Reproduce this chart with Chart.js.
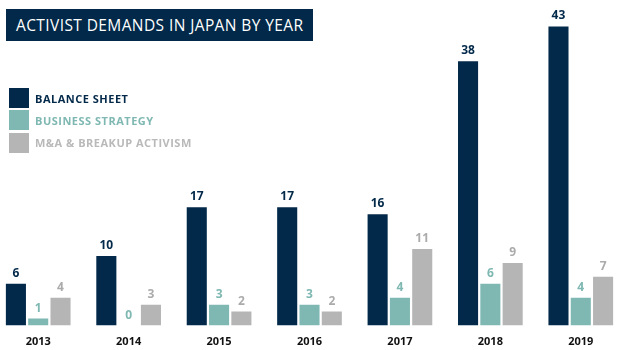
<!DOCTYPE html>
<html>
<head>
<meta charset="utf-8">
<script src="https://cdn.jsdelivr.net/npm/chart.js@4/dist/chart.umd.min.js"></script>
<style>
  html, body { margin: 0; padding: 0; width: 618px; height: 350px; overflow: hidden; background: #ffffff; }
  #wrap { position: absolute; left: -7px; top: 0; width: 633px; height: 350px; }
  #title { position: absolute; left: 6px; top: 9px; width: 307px; height: 32px; background: #022949; color: #ffffff;
           font-family: "Open Sans", sans-serif; font-size: 15.5px; letter-spacing: 0.4px; line-height: 32px; box-sizing: border-box; padding-left: 10px; white-space: nowrap; }
  #legend { position: absolute; left: 9px; top: 88px; font-family: "Open Sans", sans-serif; font-weight: bold; font-size: 11px; letter-spacing: 0.5px; }
  .row { height: 20px; margin-bottom: 2.3px; display: flex; align-items: center; }
  .sw { width: 20px; height: 20px; margin-right: 6px; }
</style>
</head>
<body>
<div id="wrap"><canvas id="c" width="633" height="350"></canvas></div>
<div id="title">ACTIVIST DEMANDS IN JAPAN BY YEAR</div>
<div id="legend"></div>
<script>
const years = ["2013", "2014", "2015", "2016", "2017", "2018", "2019"];
const balanceSheet = [6, 10, 17, 17, 16, 38, 43];
const businessStrategy = [1, 0, 3, 3, 4, 6, 4];
const mnaBreakup = [4, 3, 2, 2, 11, 9, 7];
const seriesNames = ["BALANCE SHEET", "BUSINESS STRATEGY", "M&A & BREAKUP ACTIVISM"];
const seriesColors = ["#022949", "#7fb8b2", "#b5b5b5"];
const labelColors = ["#022949", "#7fb8b2", "#ababab"];
const legendTextColors = ["#022949", "#7fb8b2", "#b9b9b9"];

// HTML legend
const lg = document.getElementById('legend');
seriesNames.forEach((n, i) => {
  const r = document.createElement('div'); r.className = 'row';
  const s = document.createElement('div'); s.className = 'sw'; s.style.background = seriesColors[i];
  const t = document.createElement('span'); t.textContent = n; t.style.color = legendTextColors[i];
  r.appendChild(s); r.appendChild(t); lg.appendChild(r);
});

const valueLabels = {
  id: 'valueLabels',
  afterDatasetsDraw(chart) {
    const ctx = chart.ctx;
    ctx.save();
    ctx.font = 'bold 12px "Open Sans", sans-serif';
    ctx.textAlign = 'center';
    ctx.textBaseline = 'alphabetic';
    chart.data.datasets.forEach((ds, di) => {
      const meta = chart.getDatasetMeta(di);
      ctx.fillStyle = labelColors[di];
      meta.data.forEach((bar, i) => {
        ctx.fillText(String(ds.data[i]), bar.x, bar.y - 7);
      });
    });
    ctx.restore();
  }
};

new Chart(document.getElementById('c'), {
  type: 'bar',
  data: {
    labels: years,
    datasets: [
      { label: seriesNames[0], data: balanceSheet, backgroundColor: seriesColors[0] },
      { label: seriesNames[1], data: businessStrategy, backgroundColor: seriesColors[1] },
      { label: seriesNames[2], data: mnaBreakup, backgroundColor: seriesColors[2] }
    ]
  },
  options: {
    responsive: false,
    animation: false,
    categoryPercentage: 0.74,
    barPercentage: 0.9,
    layout: { padding: 0 },
    plugins: { legend: { display: false }, tooltip: { enabled: false } },
    scales: {
      x: {
        grid: { display: false, drawTicks: false, tickLength: 0 },
        border: { display: false },
        ticks: { color: '#111111', padding: 10, font: { family: '"Open Sans", sans-serif', weight: 'bold', size: 11 } },
        afterFit(scale) { scale.height = 24.5; }
      },
      y: { display: false, min: 0, max: 46.8 }
    }
  },
  plugins: [valueLabels]
});
</script>
</body>
</html>
